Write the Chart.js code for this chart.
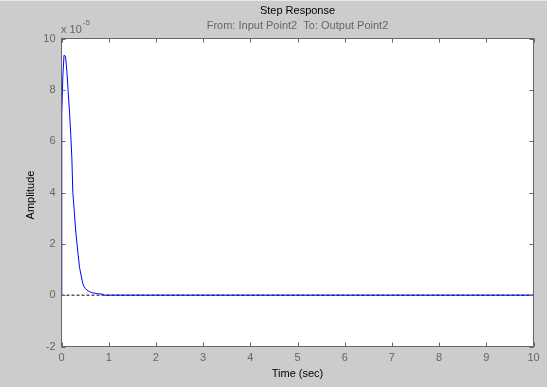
<!DOCTYPE html>
<html>
<head>
<meta charset="utf-8">
<script src="https://cdn.jsdelivr.net/npm/chart.js@4.4.0/dist/chart.umd.min.js"></script>
<style>
  html, body { margin: 0; padding: 0; background: #cccccc; }
  #wrap { width: 547px; height: 387px; }
</style>
</head>
<body>
<div id="wrap"><canvas id="stepChart" width="547" height="387"></canvas></div>
<script>
// ─── DATA ─────────────────────────────────────────────────────────────────────
// amplitude is in units of 1e-5 (see exponent label)
const times = [0, 0.006, 0.028, 0.053, 0.085, 0.112, 0.142, 0.17, 0.197, 0.219, 0.24,
               0.27, 0.297, 0.325, 0.355, 0.382, 0.41, 0.439, 0.467, 0.503, 0.537,
               0.588, 0.658, 0.764, 0.89, 0.91, 10];
const amplitude = [0, 7.07, 8.5, 9.35, 9.3, 8.76, 7.91, 7.13, 6.22, 5.37, 4.0,
                   3.29, 2.58, 2.05, 1.54, 1.08, 0.82, 0.56, 0.36, 0.27, 0.2,
                   0.14, 0.09, 0.06, 0.03, 0, 0];
const steadyTimes = [0, 10];
const steadyValue = [0, 0];
const timeTicks = [0, 1, 2, 3, 4, 5, 6, 7, 8, 9, 10];
const ampTicks = [-2, 0, 2, 4, 6, 8, 10];
const yExponent = '-5';

const titleText = 'Step Response';
const subTitleText = 'From: Input Point2  To: Output Point2';
const xLabel = 'Time (sec)';
const yLabel = 'Amplitude';

// ─── STYLE ────────────────────────────────────────────────────────────────────
const FONT = "'Liberation Sans', Arial, sans-serif";
const axisGray = '#666666';
const tickLen = 4;

const toXY = (xs, ys) => xs.map((x, i) => ({ x: x, y: ys[i] }));

// ─── FRAME / TEXT PLUGIN ──────────────────────────────────────────────────────
const matlabFrame = {
    id: 'matlabFrame',
    beforeDraw(chart) {
        const { ctx, chartArea: a } = chart;
        ctx.save();
        ctx.fillStyle = '#cccccc';
        ctx.fillRect(0, 0, chart.width, chart.height);
        ctx.fillStyle = '#ece9d8';
        ctx.fillRect(0, 0, chart.width, 1);
        ctx.fillStyle = '#ffffff';
        ctx.fillRect(a.left, a.top, a.right - a.left, a.bottom - a.top);
        ctx.restore();
    },
    afterDraw(chart) {
        const { ctx, chartArea: a, scales } = chart;
        const xs = scales.x, ys = scales.y;
        ctx.save();
        ctx.strokeStyle = axisGray;
        ctx.lineWidth = 1;
        ctx.strokeRect(a.left, a.top, a.right - a.left, a.bottom - a.top);

        ctx.beginPath();
        timeTicks.forEach(t => {
            const px = Math.round(xs.getPixelForValue(t)) + 0.5;
            ctx.moveTo(px, a.bottom); ctx.lineTo(px, a.bottom - tickLen);
            ctx.moveTo(px, a.top); ctx.lineTo(px, a.top + tickLen);
        });
        ampTicks.forEach(v => {
            const py = Math.round(ys.getPixelForValue(v)) + 0.5;
            ctx.moveTo(a.left, py); ctx.lineTo(a.left + tickLen, py);
            ctx.moveTo(a.right, py); ctx.lineTo(a.right - tickLen, py);
        });
        ctx.stroke();

        const cx = (a.left + a.right) / 2;
        ctx.textAlign = 'center';
        ctx.textBaseline = 'middle';
        ctx.font = '11px ' + FONT;
        ctx.fillStyle = '#000000';
        ctx.fillText(titleText, cx, 11);
        ctx.fillText(xLabel, cx, 374);
        ctx.fillStyle = axisGray;
        ctx.fillText(subTitleText, cx, 26);

        ctx.fillStyle = '#000000';
        ctx.save();
        ctx.translate(31, 195);
        ctx.rotate(-Math.PI / 2);
        ctx.fillText(yLabel, 0, 0);
        ctx.restore();

        // exponent label
        ctx.fillStyle = axisGray;
        ctx.textAlign = 'left';
        ctx.textBaseline = 'alphabetic';
        ctx.font = '11px ' + FONT;
        ctx.fillText('x 10', 61, 33);
        const w = ctx.measureText('x 10').width;
        ctx.font = '8px ' + FONT;
        ctx.fillText(yExponent, 61 + w + 1, 25);
        ctx.restore();
    }
};

// ─── CHART ────────────────────────────────────────────────────────────────────
new Chart(document.getElementById('stepChart'), {
    type: 'line',
    data: {
        datasets: [
            {
                data: toXY(times, amplitude),
                borderColor: '#0000ff',
                borderWidth: 1,
                pointRadius: 0,
                tension: 0,
                fill: false
            },
            {
                data: toXY(steadyTimes, steadyValue),
                borderColor: '#000000',
                borderWidth: 1,
                borderDash: [3, 2],
                pointRadius: 0,
                tension: 0,
                fill: false
            }
        ]
    },
    options: {
        responsive: false,
        animation: false,
        devicePixelRatio: 1,
        layout: { padding: { left: 0, top: 38.5, right: 13.5, bottom: 0 } },
        plugins: { legend: { display: false }, tooltip: { enabled: false }, title: { display: false } },
        scales: {
            x: {
                type: 'linear',
                min: 0,
                max: 10,
                afterBuildTicks: s => { s.ticks = timeTicks.map(v => ({ value: v })); },
                afterFit: s => { s.height = 40.5; },
                grid: { display: false, drawTicks: false },
                border: { display: false },
                ticks: {
                    color: axisGray,
                    font: { family: FONT, size: 11 },
                    padding: 5,
                    maxRotation: 0,
                    autoSkip: false
                }
            },
            y: {
                type: 'linear',
                min: -2,
                max: 10,
                afterBuildTicks: s => { s.ticks = ampTicks.map(v => ({ value: v })); },
                afterFit: s => { s.width = 61.5; },
                grid: { display: false, drawTicks: false },
                border: { display: false },
                ticks: {
                    color: axisGray,
                    font: { family: FONT, size: 11 },
                    padding: 6,
                    autoSkip: false
                }
            }
        }
    },
    plugins: [matlabFrame]
});
</script>
</body>
</html>
